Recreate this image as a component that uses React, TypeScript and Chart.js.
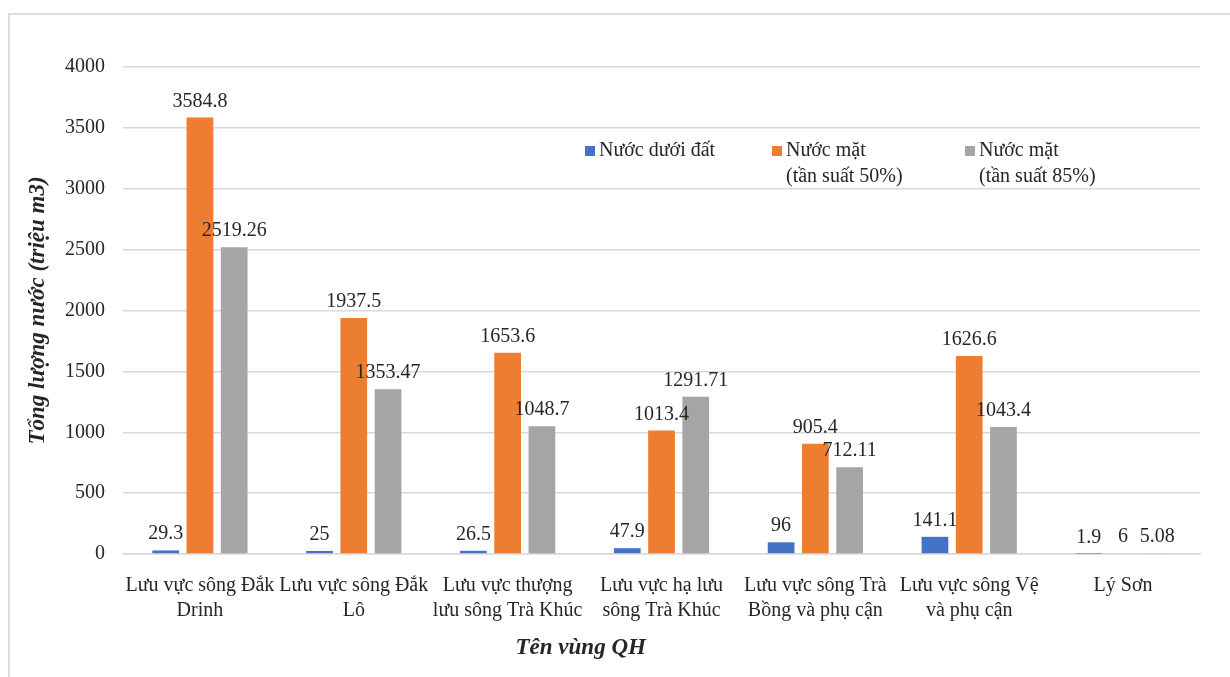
import React, { useEffect, useRef } from "react";
import { Chart, registerables } from "chart.js";

Chart.register(...registerables);

const categories: (string | string[])[] = [
  ["Lưu vực sông Đắk", "Drinh"],
  ["Lưu vực sông Đắk", "Lô"],
  ["Lưu vực thượng", "lưu sông Trà Khúc"],
  ["Lưu vực hạ lưu", "sông Trà Khúc"],
  ["Lưu vực sông Trà", "Bồng và phụ cận"],
  ["Lưu vực sông Vệ", "và phụ cận"],
  "Lý Sơn",
];

const groundWater = [29.3, 25, 26.5, 47.9, 96, 141.1, 1.9];
const surface50 = [3584.8, 1937.5, 1653.6, 1013.4, 905.4, 1626.6, 6];
const surface85 = [2519.26, 1353.47, 1048.7, 1291.71, 712.11, 1043.4, 5.08];

const seriesNames: string[][] = [
  ["Nước dưới đất"],
  ["Nước mặt", "(tần suất 50%)"],
  ["Nước mặt", "(tần suất 85%)"],
];
const seriesColors = ["#4472C4", "#ED7D31", "#A5A5A5"];

const yTicksMin = 0;
const yTicksMax = 4000;
const yTickStep = 500;

const yTitle = "Tổng lượng nước (triệu m3)";
const xTitle = "Tên vùng QH";

const FONT = '"Liberation Serif", "Times New Roman", serif';
const TEXT = "#262626";

const dataLabelPlugin = {
  id: "dataLabels",
  afterDatasetsDraw(chart: any) {
    const ctx = chart.ctx;
    ctx.save();
    ctx.font = `20px ${FONT}`;
    ctx.fillStyle = TEXT;
    ctx.textAlign = "center";
    ctx.textBaseline = "alphabetic";
    chart.data.datasets.forEach((ds: any, i: number) => {
      const meta = chart.getDatasetMeta(i);
      meta.data.forEach((bar: any, j: number) => {
        ctx.fillText(String(ds.data[j]), bar.x, bar.y - 11);
      });
    });
    ctx.restore();
  },
};

const legendPlugin = {
  id: "customLegend",
  afterDraw(chart: any) {
    const ctx = chart.ctx;
    const xs = [585, 772, 965];
    const top = 146;
    ctx.save();
    ctx.font = `20px ${FONT}`;
    ctx.textAlign = "left";
    ctx.textBaseline = "middle";
    seriesNames.forEach((lines, i) => {
      ctx.fillStyle = seriesColors[i];
      ctx.fillRect(xs[i], top, 10, 10);
      ctx.fillStyle = TEXT;
      lines.forEach((ln, k) => {
        ctx.fillText(ln, xs[i] + 14, top + 5 + k * 26);
      });
    });
    ctx.restore();
  },
};

const axisTitlePlugin = {
  id: "axisTitles",
  afterDraw(chart: any) {
    const ctx = chart.ctx;
    const a = chart.chartArea;
    ctx.save();
    ctx.fillStyle = TEXT;
    ctx.font = `italic bold 23px ${FONT}`;
    ctx.textAlign = "center";
    ctx.textBaseline = "middle";
    ctx.translate(a.left - 85, (a.top + a.bottom) / 2);
    ctx.rotate(-Math.PI / 2);
    ctx.fillText(yTitle, 0, 0);
    ctx.restore();

    ctx.save();
    ctx.fillStyle = TEXT;
    ctx.font = `italic bold 23px ${FONT}`;
    ctx.textAlign = "center";
    ctx.textBaseline = "middle";
    ctx.fillText(xTitle, a.left + a.width * 0.425, a.bottom + 94);
    ctx.restore();
  },
};

export default function App() {
  const ref = useRef<HTMLCanvasElement | null>(null);

  useEffect(() => {
    if (!ref.current) return;
    const chart = new Chart(ref.current, {
      type: "bar",
      data: {
        labels: categories as any,
        datasets: [
          { label: seriesNames[0].join(" "), data: groundWater, backgroundColor: seriesColors[0] },
          { label: seriesNames[1].join(" "), data: surface50, backgroundColor: seriesColors[1] },
          { label: seriesNames[2].join(" "), data: surface85, backgroundColor: seriesColors[2] },
        ],
      },
      options: {
        responsive: false,
        animation: false,
        devicePixelRatio: 1,
        datasets: {
          bar: { categoryPercentage: 0.668, barPercentage: 0.78 },
        } as any,
        layout: { padding: { top: 67, right: 30, left: 0, bottom: 0 } },
        plugins: {
          legend: { display: false },
          tooltip: { enabled: false },
          title: { display: false },
        },
        scales: {
          x: {
            grid: { display: false },
            border: { display: true, color: "#D9D9D9", width: 1.5 },
            ticks: {
              autoSkip: false,
              maxRotation: 0,
              minRotation: 0,
              padding: 11,
              color: TEXT,
              font: { family: FONT, size: 20, lineHeight: 1.25 },
            },
            afterFit(scale: any) {
              scale.height = 123;
            },
          },
          y: {
            min: yTicksMin,
            max: yTicksMax,
            grid: { color: "#D9D9D9", lineWidth: 1.5, drawTicks: false },
            border: { display: false },
            ticks: {
              stepSize: yTickStep,
              padding: 18,
              color: TEXT,
              font: { family: FONT, size: 20 },
              callback: (v: any) => String(v),
            },
            afterFit(scale: any) {
              scale.width = 123;
            },
          },
        },
      },
      plugins: [dataLabelPlugin, legendPlugin, axisTitlePlugin],
    });
    return () => chart.destroy();
  }, []);

  return (
    <div style={{ position: "fixed", left: 0, top: 0, width: 1230, height: 677, background: "#fff", overflow: "hidden" }}>
      <div
        style={{
          position: "absolute",
          left: 8,
          top: 13,
          width: 1240,
          height: 680,
          borderLeft: "2px solid #DDDDDD",
          borderTop: "2px solid #DDDDDD",
        }}
      />
      <canvas ref={ref} width={1230} height={677} style={{ position: "absolute", left: 0, top: 0, width: 1230, height: 677 }} />
    </div>
  );
}
